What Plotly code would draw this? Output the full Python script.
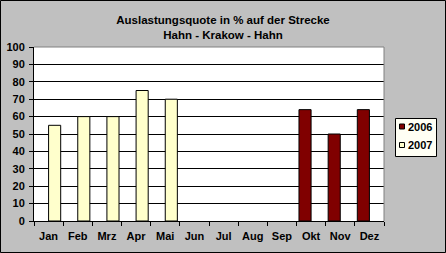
import plotly.graph_objects as go

months = ["Jan", "Feb", "Mrz", "Apr", "Mai", "Jun", "Jul", "Aug", "Sep", "Okt", "Nov", "Dez"]
values_2006 = [None, None, None, None, None, None, None, None, None, 64, 50, 64]
values_2007 = [55, 60, 60, 75, 70, None, None, None, None, None, None, None]
y_ticks = list(range(0, 101, 10))
series_names = ["2006", "2007"]
series_colors = ["#800000", "#FFFFCC"]

W, H = 446, 253
L, R, T, B = 34, 384, 47, 221
pw, ph = R - L, B - T

def px(x):
    return (x - L) / pw

def py(y):
    return (B - y) / ph

FAM = "Liberation Sans, Arial, sans-serif"
font = dict(family=FAM, size=11, color="black")

fig = go.Figure()
for name, vals, col in zip(series_names, [values_2006, values_2007], series_colors):
    fig.add_trace(go.Bar(x=months, y=vals, name=name, showlegend=False,
                         marker=dict(color=col, line=dict(color="black", width=1))))

shapes = [
    dict(type="line", xref="paper", yref="paper", x0=0, x1=1, y0=1, y1=1,
         line=dict(color="#808080", width=1), layer="above"),
    dict(type="line", xref="paper", yref="paper", x0=1, x1=1, y0=0, y1=1,
         line=dict(color="#808080", width=1), layer="above"),
    dict(type="rect", xref="paper", yref="paper",
         x0=px(0.5), x1=px(W - 0.5), y0=py(H - 0.5), y1=py(0.5),
         line=dict(color="black", width=1), layer="above"),
    # legend box
    dict(type="rect", xref="paper", yref="paper",
         x0=px(395.5), x1=px(436.5), y0=py(156.5), y1=py(118.5),
         fillcolor="#FFFFF4", line=dict(color="black", width=1), layer="above"),
]
annotations = []
leg_rows = [126.5, 145]
for name, col, yc in zip(series_names, series_colors, leg_rows):
    shapes.append(dict(type="rect", xref="paper", yref="paper",
                       x0=px(399.5), x1=px(404.5), y0=py(yc + 2.5), y1=py(yc - 2.5),
                       fillcolor=col, line=dict(color="black", width=1), layer="above"))
    annotations.append(dict(xref="paper", yref="paper", x=px(406), y=py(yc),
                            xanchor="left", yanchor="middle", showarrow=False,
                            text="<b>%s</b>" % name,
                            font=dict(size=11, family=FAM, color="black")))

fig.update_layout(
    width=W, height=H,
    margin=dict(l=L, r=W - R, t=T, b=H - B, pad=0, autoexpand=False),
    paper_bgcolor="#C0C0C0",
    plot_bgcolor="white",
    font=font,
    barmode="group",
    bargap=0.17,
    bargroupgap=0,
    showlegend=False,
    title=dict(text="<b>Auslastungsquote in % auf der Strecke<br>Hahn - Krakow - Hahn</b>",
               x=0.5, xref="container", xanchor="center",
               y=1 - 24 / H, yref="container", yanchor="top",
               font=dict(size=11.5, family=FAM, color="black")),
    xaxis=dict(type="category", categoryorder="array", categoryarray=months,
               tickmode="array", tickvals=months, ticktext=["<b>%s</b>" % m for m in months],
               tickangle=0, ticklabelstandoff=5,
               ticks="outside", tickson="boundaries", ticklen=4, tickcolor="black",
               showline=True, linecolor="black", linewidth=1, showgrid=False,
               range=[-0.5, 11.5], fixedrange=True, automargin=False),
    yaxis=dict(range=[0, 100], tickmode="array", tickvals=y_ticks,
               ticktext=["<b>%d</b>" % v for v in y_ticks],
               ticks="outside", ticklen=4, tickcolor="black", ticklabelstandoff=2,
               showline=True, linecolor="black", linewidth=1,
               showgrid=True, gridcolor="black", gridwidth=1,
               zeroline=False, fixedrange=True, automargin=False),
    shapes=shapes,
    annotations=annotations,
)

fig.write_html("out.html", config={"displayModeBar": False})
